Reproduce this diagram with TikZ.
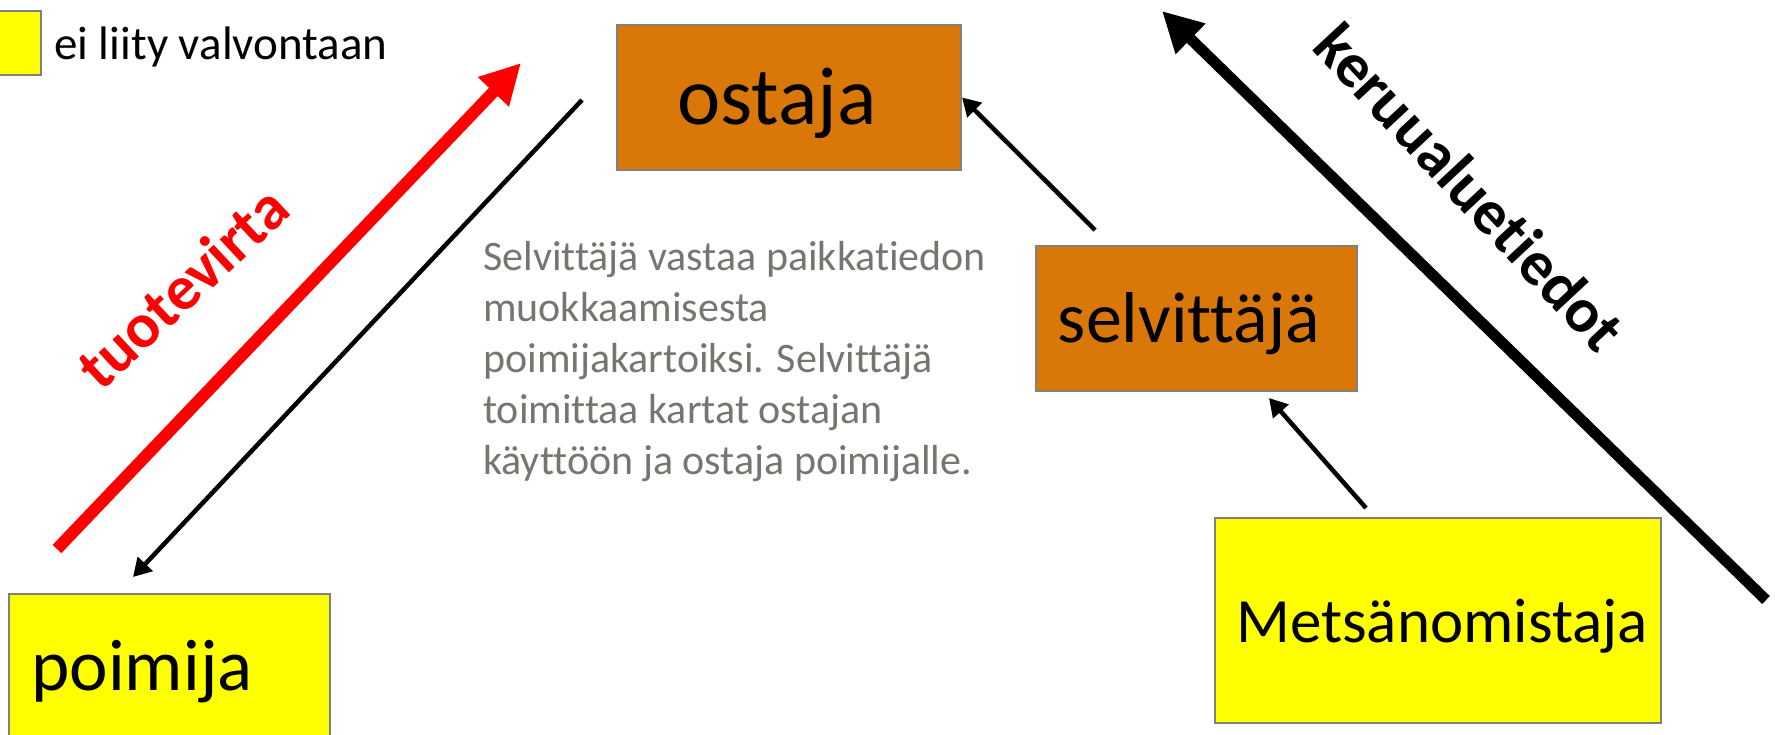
\documentclass[tikz,border=0pt]{standalone}
\usepackage{fontspec}
\setmainfont{Carlito}[Ligatures=NoCommon]
\usetikzlibrary{arrows.meta}
\definecolor{boxorange}{RGB}{217,120,8}
\definecolor{boxyellow}{RGB}{255,255,0}
\definecolor{boxborder}{RGB}{128,128,128}
\definecolor{notegray}{RGB}{118,118,112}
\begin{document}
\begin{tikzpicture}[x=1pt,y=-1pt,
  box/.style={draw=boxborder, line width=2pt, inner sep=0pt, anchor=north west},
  orangebox/.style={box, fill=boxorange},
  yellowbox/.style={box, fill=boxyellow},
  lbl/.style={inner sep=0pt, anchor=base},
  thinarrow/.style={black, line width=4.5pt, -{Triangle[length=18pt,width=20pt]}},
  bigarrow/.style={line width=11pt, -{Triangle[length=40pt,width=40pt]}},
  rotlabel/.style={inner sep=0pt, font=\bfseries\fontsize{63}{76}\selectfont}]
\useasboundingbox (0,0) rectangle (1775,735);
\clip (0,0) rectangle (1775,735);
\fill[white] (0,0) rectangle (1775,735);
% legend
\node[yellowbox, minimum width=42pt, minimum height=64pt] (legend) at (-2,10) {};
\node[inner sep=0pt, anchor=base west, font=\fontsize{47}{56}\selectfont] (legendtext) at (54,60) {ei liity valvontaan};
% boxes
\node[orangebox, minimum width=344pt, minimum height=145pt] (ostaja) at (616,24) {};
\node[lbl, font=\fontsize{82}{98}\selectfont] (ostajatext) at (777,125) {ostaja};
\node[orangebox, minimum width=321pt, minimum height=145pt] (selv) at (1035,245) {};
\node[lbl, font=\fontsize{72}{86}\selectfont] (selvtext) at (1189,342) {selvittäjä};
\node[yellowbox, minimum width=446pt, minimum height=205pt] (metsa) at (1214,517) {};
\node[lbl, font=\fontsize{63}{76}\selectfont] (metsatext) at (1442,642) {Metsänomistaja};
\node[yellowbox, minimum width=321pt, minimum height=170pt] (poimija) at (8,593) {};
\node[lbl, font=\fontsize{73}{88}\selectfont] (poimijatext) at (142,690) {poimija};
% note (base anchor = baseline of the last line)
\node[inner sep=0pt, anchor=base west, align=left, text=notegray,
      font=\fontsize{42}{51}\selectfont] (note) at (483,474)
  {Selvittäjä vastaa paikkatiedon\\muokkaamisesta\\poimijakartoiksi. Selvittäjä\\toimittaa kartat ostajan\\käyttöön ja ostaja poimijalle.};
% arrow end points
\coordinate (redtail) at (57,549);
\coordinate (redtip) at (521,63);
\coordinate (downtail) at (582,100);
\coordinate (downtip) at (133,577);
\coordinate (selvtail) at (1095,230);
\coordinate (metsatail) at (1366,508);
\coordinate (metsatip) at (1269,398);
\coordinate (bigtail) at (1766,600);
\coordinate (bigtip) at (1162,11);
% arrows
\draw[bigarrow, red, line width=12pt] (redtail) -- (redtip);
\draw[thinarrow] (downtail) -- (downtip);
\draw[thinarrow] (selvtail) -- (ostaja.east);
\draw[thinarrow] (metsatail) -- (metsatip);
\draw[bigarrow, black] (bigtail) -- (bigtip);
% rotated labels
\node[rotlabel, text=red, rotate=43] (tuote) at (182,287) {tuotevirta};
\node[rotlabel, text=black, rotate=-47] (keruu) at (1470,187) {keruualuetiedot};
\end{tikzpicture}
\end{document}
